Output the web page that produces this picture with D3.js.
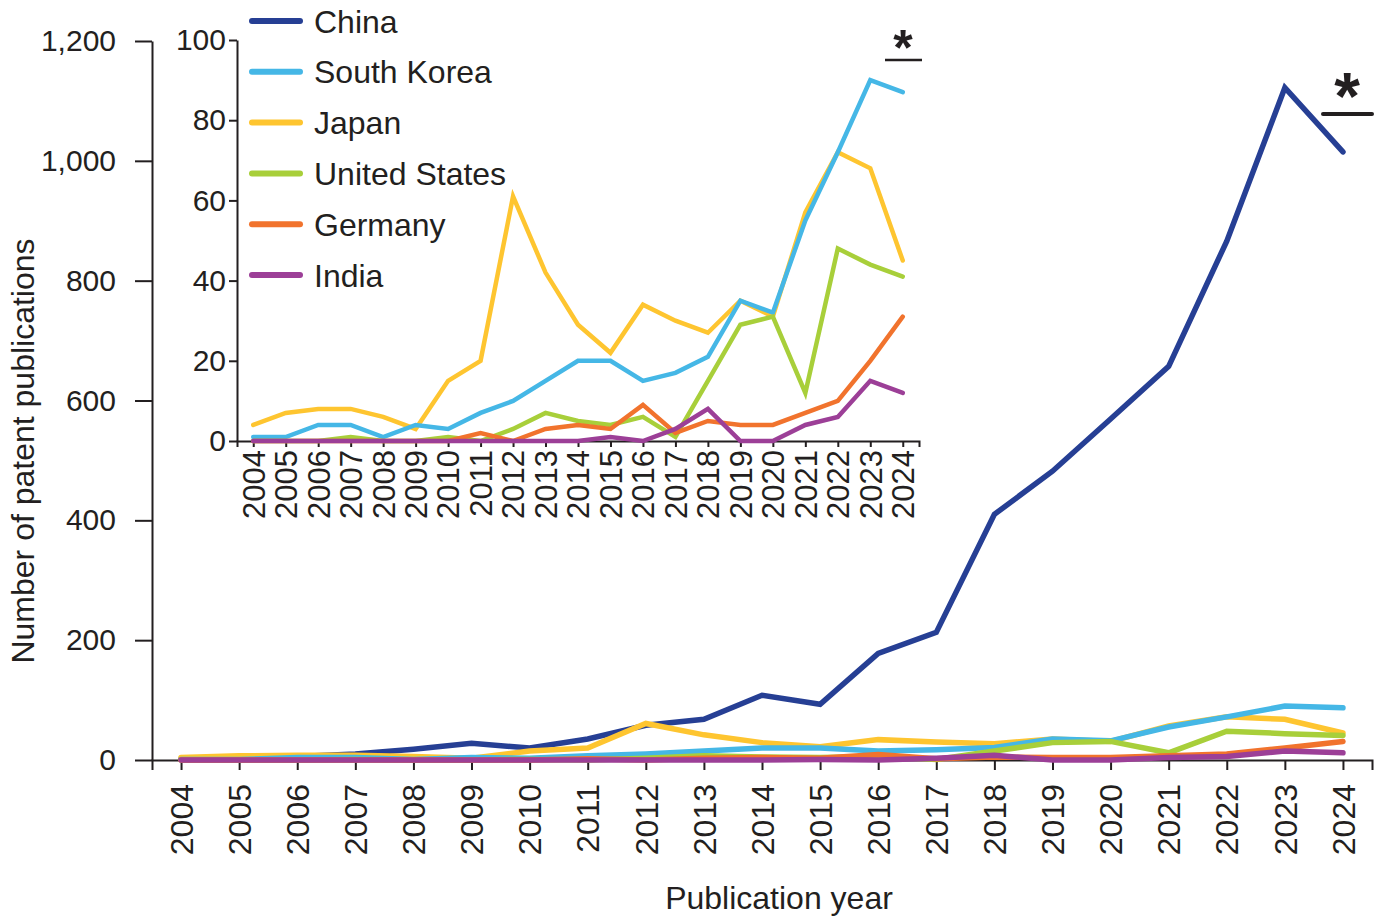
<!DOCTYPE html>
<html>
<head>
<meta charset="utf-8">
<script src="https://cdn.jsdelivr.net/npm/d3@7"></script>
<style>
  html, body { margin: 0; padding: 0; background: #ffffff; }
  svg { display: block; font-family: "Liberation Sans", Arial, Helvetica, sans-serif; }
  .axis path, .axis line { stroke: #231f20; stroke-width: 2; }
  .axis text { fill: #231f20; }
</style>
</head>
<body>
<svg id="chart" width="1383" height="917"></svg>
<script>
// Patent publications per year, by country
const years = [2004, 2005, 2006, 2007, 2008, 2009, 2010, 2011, 2012, 2013, 2014,
               2015, 2016, 2017, 2018, 2019, 2020, 2021, 2022, 2023, 2024];
const china      = [2, 4, 6, 10, 18, 28, 20, 35, 58, 68, 108, 93, 178, 213, 410, 482, 569, 657, 866, 1122, 1015];
const southKorea = [1, 1, 4, 4, 1, 4, 3, 7, 10, 15, 20, 20, 15, 17, 21, 35, 32, 55, 72, 90, 87];
const japan      = [4, 7, 8, 8, 6, 3, 15, 20, 61, 42, 29, 22, 34, 30, 27, 35, 31, 57, 72, 68, 45];
const unitedStates = [0, 0, 0, 1, 0, 0, 1, 0, 3, 7, 5, 4, 6, 1, 15, 29, 31, 12, 48, 44, 41];
const germany    = [0, 0, 0, 0, 0, 0, 0, 2, 0, 3, 4, 3, 9, 2, 5, 4, 4, 7, 10, 20, 31];
const india      = [0, 0, 0, 0, 0, 0, 0, 0, 0, 0, 0, 1, 0, 3, 8, 0, 0, 4, 6, 15, 12];

const countryNames = ["China", "South Korea", "Japan", "United States", "Germany", "India"];
const countryColors = ["#263f94", "#45b7e6", "#fec530", "#a8cf3a", "#f1732d", "#9c3f97"];
const mainTicks = [0, 200, 400, 600, 800, 1000, 1200];
const insetTicks = [0, 20, 40, 60, 80, 100];

const seriesValues = [china, southKorea, japan, unitedStates, germany, india];
const series = countryNames.map((name, i) => ({
  name, color: countryColors[i],
  points: years.map((y, j) => ({ year: y, value: seriesValues[i][j] }))
}));
// paint order: China underneath, India on top
const drawOrder = [0, 2, 1, 3, 4, 5];

const svg = d3.select("#chart");
const ink = "#231f20";
const tickFont = 30;
const labelFont = 32;

// ---------- main panel ----------
const x = d3.scaleLinear().domain([2003.5, 2024.5]).range([152, 1372]);
const y = d3.scaleLinear().domain([0, 1200]).range([760, 41]);

const main = svg.append("g");

const xAxis = main.append("g").attr("class", "axis")
  .attr("transform", `translate(0,${y(0)})`)
  .call(d3.axisBottom(x).tickValues(years).tickFormat(d3.format("d")).tickSize(10).tickSizeOuter(10));
xAxis.selectAll("text")
  .attr("font-size", 32)
  .attr("text-anchor", "end")
  .attr("transform", "rotate(-90)")
  .attr("x", -24).attr("y", 0).attr("dy", "0.35em");

const yAxis = main.append("g").attr("class", "axis")
  .attr("transform", `translate(${x.range()[0]},0)`)
  .call(d3.axisLeft(y).tickValues(mainTicks).tickFormat(d3.format(",")).tickSize(17).tickSizeOuter(0).tickPadding(19));
yAxis.selectAll("text").attr("font-size", tickFont);

main.append("text")
  .attr("transform", "translate(34,451) rotate(-90)")
  .attr("text-anchor", "middle")
  .attr("font-size", labelFont)
  .attr("fill", ink)
  .text("Number of patent publications");

main.append("text")
  .attr("x", 779).attr("y", 909)
  .attr("text-anchor", "middle")
  .attr("font-size", labelFont)
  .attr("fill", ink)
  .text("Publication year");

const mainLine = d3.line().x(d => x(d.year)).y(d => y(d.value));
drawOrder.forEach(i => {
  main.append("path")
    .datum(series[i].points)
    .attr("fill", "none")
    .attr("stroke", series[i].color)
    .attr("stroke-width", 5.5)
    .attr("stroke-linejoin", "miter")
    .attr("stroke-linecap", "round")
    .attr("d", mainLine);
});

// significance marker at the last year
main.append("line")
  .attr("x1", 1323).attr("x2", 1372).attr("y1", 114).attr("y2", 114)
  .attr("stroke", ink).attr("stroke-width", 4).attr("stroke-linecap", "round");
main.append("text")
  .attr("x", 1347).attr("y", 119)
  .attr("text-anchor", "middle")
  .attr("font-size", 66).attr("font-weight", "bold")
  .attr("fill", ink).text("*");

// ---------- inset panel (excluding China) ----------
const xi = d3.scaleLinear().domain([2003.5, 2024.5]).range([237, 919]);
const yi = d3.scaleLinear().domain([0, 100]).range([441, 40]);

const inset = svg.append("g");

const xiAxis = inset.append("g").attr("class", "axis")
  .attr("transform", `translate(0,${yi(0)})`)
  .call(d3.axisBottom(xi).tickValues(years).tickFormat(d3.format("d")).tickSize(6).tickSizeOuter(6));
xiAxis.selectAll("text")
  .attr("font-size", 31)
  .attr("text-anchor", "end")
  .attr("transform", "rotate(-90)")
  .attr("x", -9).attr("y", 0).attr("dy", "0.35em");

const yiAxis = inset.append("g").attr("class", "axis")
  .attr("transform", `translate(${xi.range()[0]},0)`)
  .call(d3.axisLeft(yi).tickValues(insetTicks).tickSize(8).tickSizeOuter(0).tickPadding(3));
yiAxis.selectAll("text").attr("font-size", tickFont);

const insetLine = d3.line().x(d => xi(d.year)).y(d => yi(d.value));
drawOrder.filter(i => i !== 0).forEach(i => {
  inset.append("path")
    .datum(series[i].points)
    .attr("fill", "none")
    .attr("stroke", series[i].color)
    .attr("stroke-width", 4.5)
    .attr("stroke-linejoin", "miter")
    .attr("stroke-linecap", "round")
    .attr("d", insetLine);
});

inset.append("line")
  .attr("x1", 885).attr("x2", 922).attr("y1", 60).attr("y2", 60)
  .attr("stroke", ink).attr("stroke-width", 2.5);
inset.append("text")
  .attr("x", 903).attr("y", 65)
  .attr("text-anchor", "middle")
  .attr("font-size", 50).attr("font-weight", "bold")
  .attr("fill", ink).text("*");

// ---------- legend ----------
const legend = svg.append("g");
const legendRows = legend.selectAll("g").data(series).join("g")
  .attr("transform", (d, i) => `translate(252,${21 + i * 50.8})`);
legendRows.append("line")
  .attr("x1", 0).attr("x2", 48).attr("y1", 0).attr("y2", 0)
  .attr("stroke", d => d.color).attr("stroke-width", 6).attr("stroke-linecap", "round");
legendRows.append("text")
  .attr("x", 62).attr("y", 0).attr("dy", "0.36em")
  .attr("font-size", labelFont)
  .attr("fill", ink)
  .text(d => d.name);
</script>
</body>
</html>
